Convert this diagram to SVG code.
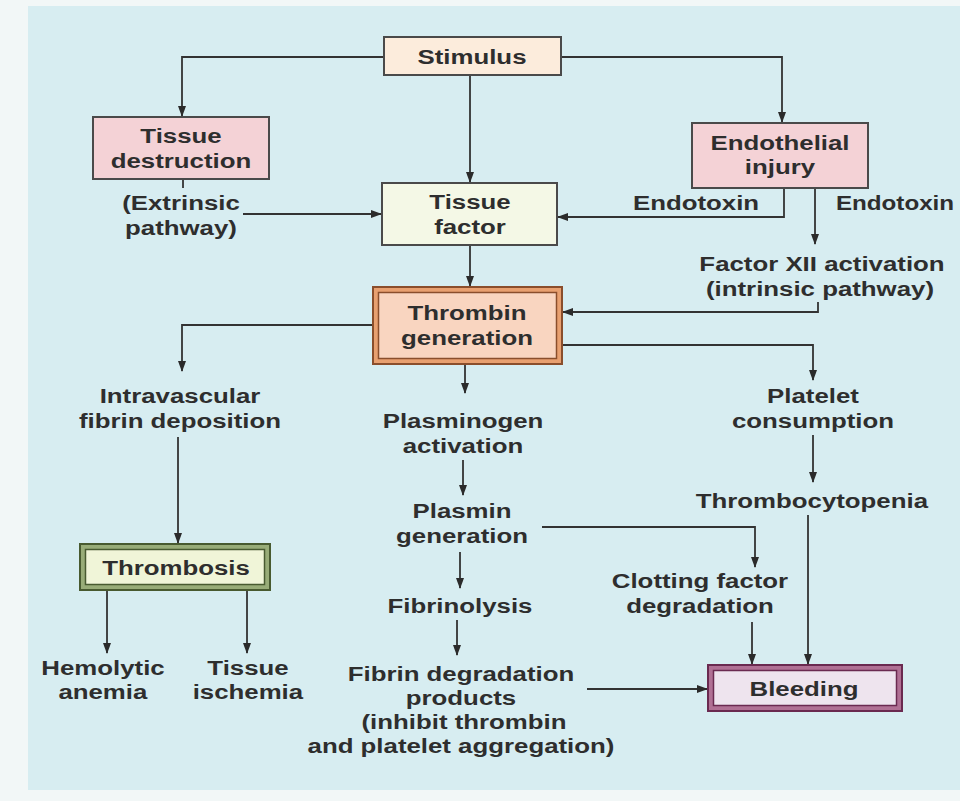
<svg xmlns="http://www.w3.org/2000/svg" width="960" height="801" viewBox="0 0 960 801">
<style>
  text { font-family: "Liberation Sans", Arial, sans-serif; font-size: 20.5px; font-weight: bold; fill: #2e2e2e; text-anchor: middle; transform-box: fill-box; transform-origin: center; transform: scaleX(1.26); }
  text.narrow { transform: scaleX(1.18); }
  .box { stroke: #4a4a4a; stroke-width: 2; }
  .conn path { fill: none; stroke: #333; stroke-width: 1.8; }
</style>
<defs>
  <marker id="ah" markerWidth="11" markerHeight="10" refX="10" refY="5" orient="auto" markerUnits="userSpaceOnUse">
    <path d="M0,1 L11,5 L0,9 Z" fill="#2b2b2b"/>
  </marker>
</defs>
<rect x="0" y="0" width="960" height="801" fill="#f2f7f7"/>
<rect x="28" y="6" width="932" height="784" fill="#d7edf1"/>

<g class="conn">
  <path d="M384,57 H182 V116" marker-end="url(#ah)"/>
  <path d="M561,57 H782 V122" marker-end="url(#ah)"/>
  <path d="M470,75 V182" marker-end="url(#ah)"/>
  <path d="M183,179 V188"/>
  <path d="M243,214 H381" marker-end="url(#ah)"/>
  <path d="M784,188 V217 H558" marker-end="url(#ah)"/>
  <path d="M815,188 V244" marker-end="url(#ah)"/>
  <path d="M818,302 V312 H563" marker-end="url(#ah)"/>
  <path d="M470,245 V286" marker-end="url(#ah)"/>
  <path d="M373,325 H182 V371" marker-end="url(#ah)"/>
  <path d="M465,364 V393" marker-end="url(#ah)"/>
  <path d="M562,345 H813 V380" marker-end="url(#ah)"/>
  <path d="M178,437 V543" marker-end="url(#ah)"/>
  <path d="M463,460 V495" marker-end="url(#ah)"/>
  <path d="M542,527 H755 V567" marker-end="url(#ah)"/>
  <path d="M460,552 V588" marker-end="url(#ah)"/>
  <path d="M457,620 V655" marker-end="url(#ah)"/>
  <path d="M587,689 H707" marker-end="url(#ah)"/>
  <path d="M752,622 V664" marker-end="url(#ah)"/>
  <path d="M813,435 V482" marker-end="url(#ah)"/>
  <path d="M808,515 V664" marker-end="url(#ah)"/>
  <path d="M107,590 V653" marker-end="url(#ah)"/>
  <path d="M247,590 V653" marker-end="url(#ah)"/>
</g>

<g id="stimulus">
  <rect class="box" x="384" y="37" width="177" height="38" fill="#fcecdc"/>
  <text x="472" y="64">Stimulus</text>
</g>
<g id="tissue-destruction">
  <rect class="box" x="93" y="117" width="176" height="62" fill="#f4d2d6"/>
  <text x="181" y="143">Tissue</text>
  <text x="181" y="168">destruction</text>
</g>
<g id="extrinsic">
  <text x="181" y="210">(Extrinsic</text>
  <text x="181" y="235">pathway)</text>
</g>
<g id="tissue-factor">
  <rect class="box" x="382" y="183" width="175" height="62" fill="#f4f8e6"/>
  <text x="470" y="209">Tissue</text>
  <text x="470" y="234">factor</text>
</g>
<g id="endothelial-injury">
  <rect class="box" x="692" y="123" width="176" height="65" fill="#f4d2d6"/>
  <text x="780" y="150">Endothelial</text>
  <text x="780" y="174">injury</text>
</g>
<g id="endotoxin-left">
  <text x="696" y="210">Endotoxin</text>
</g>
<g id="endotoxin-right">
  <text class="narrow" x="895" y="210">Endotoxin</text>
</g>
<g id="factor-xii">
  <text x="822" y="271">Factor XII activation</text>
  <text x="820" y="296">(intrinsic pathway)</text>
</g>
<g id="thrombin-generation">
  <rect x="373" y="287" width="189" height="77" fill="#e8a070" stroke="#8a4e2c" stroke-width="2"/>
  <rect x="378.5" y="292.5" width="178" height="66" fill="#f9d5c0" stroke="#8a4e2c" stroke-width="1.5"/>
  <text x="467" y="320">Thrombin</text>
  <text x="467" y="345">generation</text>
</g>
<g id="intravascular">
  <text x="180" y="403">Intravascular</text>
  <text x="180" y="428">fibrin deposition</text>
</g>
<g id="plasminogen">
  <text x="463" y="428">Plasminogen</text>
  <text x="463" y="453">activation</text>
</g>
<g id="platelet-consumption">
  <text x="813" y="403">Platelet</text>
  <text x="813" y="428">consumption</text>
</g>
<g id="thrombocytopenia">
  <text x="812" y="508">Thrombocytopenia</text>
</g>
<g id="plasmin">
  <text x="462" y="518">Plasmin</text>
  <text x="462" y="543">generation</text>
</g>
<g id="clotting-factor">
  <text x="700" y="588">Clotting factor</text>
  <text x="700" y="613">degradation</text>
</g>
<g id="fibrinolysis">
  <text x="460" y="613">Fibrinolysis</text>
</g>
<g id="fdp">
  <text x="461" y="681">Fibrin degradation</text>
  <text x="461" y="705">products</text>
  <text x="464" y="729">(inhibit thrombin</text>
  <text x="461" y="753">and platelet aggregation)</text>
</g>
<g id="thrombosis">
  <rect x="80" y="544" width="190" height="46" fill="#98ac78" stroke="#485a30" stroke-width="2"/>
  <rect x="85.5" y="549.5" width="179" height="35" fill="#f0f5d8" stroke="#485a30" stroke-width="1.5"/>
  <text x="176" y="575">Thrombosis</text>
</g>
<g id="hemolytic-anemia">
  <text x="103" y="675">Hemolytic</text>
  <text x="103" y="699">anemia</text>
</g>
<g id="tissue-ischemia">
  <text x="248" y="675">Tissue</text>
  <text x="248" y="699">ischemia</text>
</g>
<g id="bleeding">
  <rect x="708" y="665" width="194" height="46" fill="#b07094" stroke="#6a2a50" stroke-width="2"/>
  <rect x="713.5" y="670.5" width="183" height="35" fill="#eee4ee" stroke="#6a2a50" stroke-width="1.5"/>
  <text x="804" y="696">Bleeding</text>
</g>
</svg>
